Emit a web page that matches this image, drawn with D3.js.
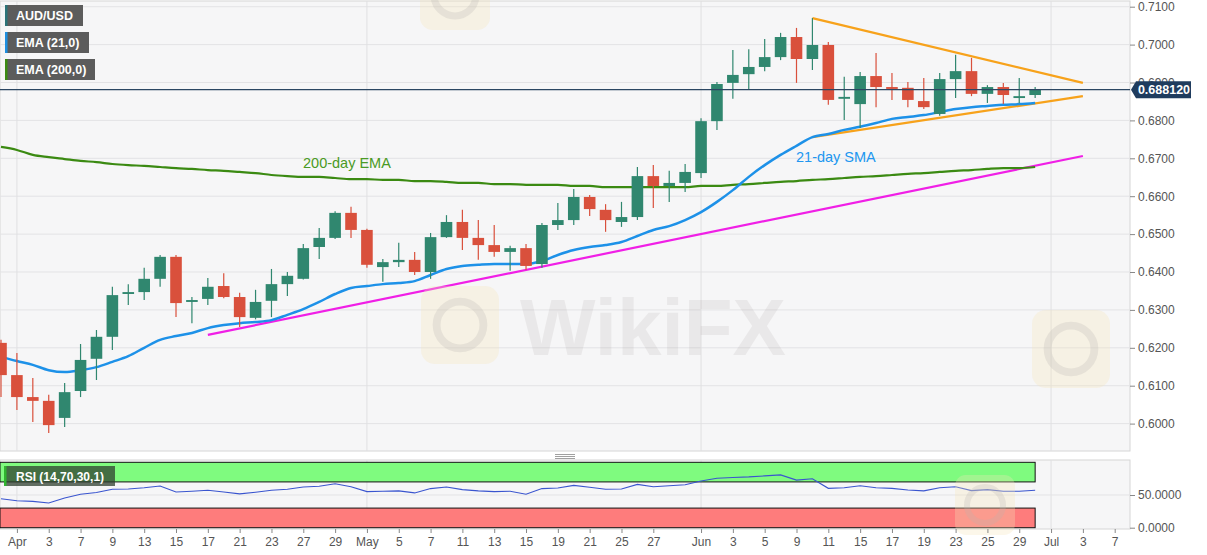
<!DOCTYPE html>
<html>
<head>
<meta charset="utf-8">
<script src="https://cdn.jsdelivr.net/npm/d3@7"></script>
<style>
  body { margin: 0; background: #fff; }
  svg { display: block; font-family: Arial, "Liberation Sans", sans-serif; }
</style>
</head>
<body>
<div id="chart"></div>
<script>
// trading days, Mar 31 .. Jul 8 (the last ones are empty space on the right)
const days = ["03-31","04-01","04-02","04-03","04-06","04-07","04-08","04-09","04-10","04-13","04-14","04-15","04-16","04-17","04-20","04-21","04-22","04-23","04-24","04-27","04-28","04-29","04-30",
  "05-01","05-04","05-05","05-06","05-07","05-08","05-11","05-12","05-13","05-14","05-15","05-18","05-19","05-20","05-21","05-22","05-25","05-26","05-27","05-28","05-29",
  "06-01","06-02","06-03","06-04","06-05","06-08","06-09","06-10","06-11","06-12","06-15","06-16","06-17","06-18","06-19","06-22","06-23","06-24","06-25","06-26","06-29","06-30",
  "07-01","07-02","07-03","07-06","07-07","07-08"];

const opens = [0.6213,0.6128,0.6070,0.6060,0.6015,0.6086,0.6171,0.6229,0.6342,0.6347,
  0.6382,0.6440,0.6321,0.6329,0.6363,0.6334,0.6279,0.6324,0.6368,0.6382,
  0.6466,0.6490,0.6556,0.6511,0.6413,0.6426,0.6432,0.6400,0.6492,0.6532,
  0.6490,0.6471,0.6453,0.6463,0.6421,0.6524,0.6537,0.6598,0.6564,0.6532,
  0.6545,0.6653,0.6627,0.6635,0.6661,0.6798,0.6899,0.6922,0.6941,0.6967,
  0.7020,0.6962,0.6999,0.6857,0.6843,0.6917,0.6888,0.6886,0.6851,0.6817,
  0.6909,0.6930,0.6870,0.6888,0.6859,0.6867];
const highs = [0.6221,0.6186,0.6120,0.6076,0.6107,0.6210,0.6247,0.6361,0.6368,0.6411,
  0.6445,0.6445,0.6334,0.6384,0.6397,0.6345,0.6353,0.6408,0.6400,0.6474,
  0.6516,0.6560,0.6572,0.6514,0.6434,0.6477,0.6453,0.6503,0.6550,0.6564,
  0.6537,0.6524,0.6469,0.6474,0.6529,0.6582,0.6619,0.6603,0.6579,0.6585,
  0.6677,0.6682,0.6667,0.6685,0.6806,0.6901,0.6986,0.6988,0.7015,0.7031,
  0.7044,0.7070,0.7007,0.6915,0.6928,0.6978,0.6925,0.6901,0.6912,0.6925,
  0.6973,0.6965,0.6893,0.6899,0.6912,0.6888];
const lows = [0.6070,0.6036,0.6004,0.5975,0.5991,0.6070,0.6115,0.6194,0.6313,0.6326,
  0.6361,0.6281,0.6265,0.6313,0.6331,0.6255,0.6275,0.6281,0.6337,0.6380,
  0.6434,0.6487,0.6490,0.6411,0.6374,0.6413,0.6392,0.6382,0.6490,0.6458,
  0.6432,0.6440,0.6403,0.6405,0.6411,0.6511,0.6524,0.6548,0.6506,0.6519,
  0.6537,0.6569,0.6585,0.6611,0.6648,0.6775,0.6857,0.6883,0.6930,0.6959,
  0.6899,0.6933,0.6841,0.6801,0.6780,0.6835,0.6854,0.6835,0.6830,0.6812,
  0.6859,0.6864,0.6846,0.6843,0.6846,0.6859];
const closes = [0.6128,0.6070,0.6060,0.5996,0.6083,0.6168,0.6229,0.6339,0.6347,0.6382,
  0.6440,0.6318,0.6326,0.6361,0.6334,0.6281,0.6321,0.6368,0.6390,0.6463,
  0.6490,0.6556,0.6511,0.6419,0.6426,0.6432,0.6400,0.6492,0.6532,0.6490,
  0.6471,0.6453,0.6463,0.6416,0.6524,0.6537,0.6598,0.6566,0.6537,0.6545,
  0.6653,0.6627,0.6635,0.6664,0.6798,0.6896,0.6920,0.6941,0.6967,0.7020,
  0.6962,0.6999,0.6854,0.6862,0.6917,0.6888,0.6883,0.6854,0.6835,0.6909,
  0.6930,0.6870,0.6888,0.6867,0.6864,0.68812];

const sma21 = [0.6176,0.6165,0.6155,0.6141,0.6136,0.6141,0.6149,0.6163,0.6178,0.6200,
  0.6221,0.6231,0.6239,0.6252,0.6260,0.6265,0.6268,0.6273,0.6287,0.6302,
  0.6321,0.6342,0.6358,0.6363,0.6368,0.6371,0.6376,0.6392,0.6408,0.6416,
  0.6419,0.6421,0.6421,0.6421,0.6429,0.6445,0.6458,0.6466,0.6471,0.6479,
  0.6495,0.6511,0.6521,0.6537,0.6558,0.6585,0.6616,0.6651,0.6682,0.6709,
  0.6733,0.6756,0.6764,0.6775,0.6783,0.6793,0.6804,0.6809,0.6814,0.6822,
  0.6830,0.6835,0.6838,0.6841,0.6843,0.6846];
const ema200 = [0.6730,0.6722,0.6709,0.6703,0.6698,0.6693,0.6690,0.6685,0.6682,0.6680,
  0.6677,0.6674,0.6672,0.6669,0.6667,0.6664,0.6661,0.6656,0.6653,0.6651,
  0.6651,0.6648,0.6645,0.6645,0.6643,0.6643,0.6640,0.6640,0.6638,0.6635,
  0.6635,0.6632,0.6632,0.6630,0.6630,0.6630,0.6627,0.6627,0.6624,0.6624,
  0.6624,0.6624,0.6624,0.6624,0.6627,0.6627,0.6630,0.6632,0.6635,0.6638,
  0.6640,0.6643,0.6645,0.6648,0.6651,0.6653,0.6656,0.6659,0.6661,0.6664,
  0.6667,0.6669,0.6672,0.6674,0.6674,0.6677];
const rsi = [44.2,41.3,40.2,37.8,45.3,51.2,53.7,58.7,59.2,61.2,
  63.8,54.7,55.8,57.2,54.7,51.7,54.3,57.2,58.7,62.2,
  63.3,67.3,62.7,55.2,55.8,56.3,53.2,59.8,62.2,58.2,
  56.3,55.2,55.8,51.2,59.8,60.7,64.7,61.8,58.7,59.2,
  66.2,62.7,64.2,65.7,71.3,75.7,76.8,77.7,79.2,80.7,
  72.8,74.8,60.2,61.2,64.2,61.2,60.2,57.7,56.3,61.2,
  62.7,56.7,58.2,55.8,55.8,57.2];

const lastPrice = 0.68812;
const trendLines = [
  { color: "#f7a21b", from: ["06-10", 0.7070], to: ["07-03", 0.6899] },
  { color: "#f7a21b", from: ["06-10", 0.6756], to: ["07-03", 0.6864] },
  { color: "#f01fe6", from: ["04-17", 0.6234], to: ["07-03", 0.6706] }
];

const tickDays = ["04-01","04-03","04-07","04-09","04-13","04-15","04-17","04-21","04-23","04-27","04-29",
  "05-01","05-05","05-07","05-11","05-13","05-15","05-19","05-21","05-25","05-27",
  "06-01","06-03","06-05","06-09","06-11","06-15","06-17","06-19","06-23","06-25","06-29",
  "07-01","07-03","07-07"];
const tickLabels = ["Apr","3","7","9","13","15","17","21","23","27","29",
  "May","5","7","11","13","15","19","21","25","27",
  "Jun","3","5","9","11","15","17","19","23","25","29",
  "Jul","3","7"];
const monthStarts = ["04-01","05-01","06-01","07-01"];
const priceTicks = [0.60,0.61,0.62,0.63,0.64,0.65,0.66,0.67,0.68,0.69,0.70,0.71];
const rsiTicks = [0, 50];

const width = 1207, height = 555;
const plotRight = 1130, mainTop = 1, mainBottom = 451, rsiTop = 460, rsiBottom = 529;

const candles = days.slice(0, closes.length).map((d, i) => ({
  day: d, o: opens[i], h: highs[i], l: lows[i], c: closes[i]
}));

const x = d3.scalePoint().domain(days).range([1, 1 + 15.91 * (days.length - 1)]);
const y = d3.scaleLinear().domain([0.60, 0.71]).range([423.6, 6.7]);
const yRsi = d3.scaleLinear().domain([0, 100]).range([527.7, 462.3]);

const svg = d3.select("#chart").append("svg")
  .attr("width", width).attr("height", height);

const defs = svg.append("defs");
defs.append("clipPath").attr("id", "clipMain").append("rect")
  .attr("x", 0).attr("y", mainTop).attr("width", plotRight).attr("height", mainBottom - mainTop);
defs.append("clipPath").attr("id", "clipRsi").append("rect")
  .attr("x", 0).attr("y", rsiTop).attr("width", plotRight).attr("height", rsiBottom - rsiTop);

// panel backgrounds
svg.append("rect").attr("x", 0).attr("y", mainTop).attr("width", plotRight).attr("height", mainBottom - mainTop)
  .attr("fill", "#f6f6f7").attr("stroke", "#d6d6d6");
svg.append("rect").attr("x", 0).attr("y", rsiTop).attr("width", plotRight).attr("height", rsiBottom - rsiTop)
  .attr("fill", "#f6f6f7").attr("stroke", "#d6d6d6");

const main = svg.append("g").attr("clip-path", "url(#clipMain)");
const low = svg.append("g").attr("clip-path", "url(#clipRsi)");

// grid
main.selectAll("line.hgrid").data(priceTicks).join("line").attr("class", "hgrid")
  .attr("x1", 0).attr("x2", plotRight).attr("y1", d => y(d)).attr("y2", d => y(d))
  .attr("stroke", "#e3e3e5");
main.selectAll("line.vgrid").data(monthStarts).join("line").attr("class", "vgrid")
  .attr("x1", d => x(d)).attr("x2", d => x(d)).attr("y1", mainTop).attr("y2", mainBottom)
  .attr("stroke", "#e0e0e2");
low.selectAll("line.vgrid").data(monthStarts).join("line").attr("class", "vgrid")
  .attr("x1", d => x(d)).attr("x2", d => x(d)).attr("y1", rsiTop).attr("y2", rsiBottom)
  .attr("stroke", "#e0e0e2");
low.append("line").attr("x1", 0).attr("x2", plotRight).attr("y1", yRsi(50)).attr("y2", yRsi(50))
  .attr("stroke", "#e3e3e5");

// faint watermarks
const wm = svg.append("g").attr("pointer-events", "none");
function logo(g, cx, cy, s) {
  g.append("rect").attr("x", cx - s / 2).attr("y", cy - s / 2).attr("width", s).attr("height", s)
    .attr("rx", s * 0.18).attr("fill", "#f4e4b8").attr("opacity", 0.3);
  g.append("circle").attr("cx", cx).attr("cy", cy).attr("r", s * 0.3)
    .attr("fill", "none").attr("stroke", "#b9b2ae").attr("stroke-width", s * 0.1).attr("opacity", 0.25);
}
logo(wm, 460, 325, 78);
logo(wm, 1071, 349, 78);
logo(wm, 455, -5, 70);
logo(wm, 985, 505, 60);
wm.append("text").attr("x", 520).attr("y", 355)
  .attr("font-size", 80).attr("font-weight", "bold").attr("fill", "#9a8f8f").attr("opacity", 0.13)
  .text("WikiFX");

// trend lines
main.selectAll("line.trend").data(trendLines).join("line").attr("class", "trend")
  .attr("x1", d => x(d.from[0])).attr("y1", d => y(d.from[1]))
  .attr("x2", d => x(d.to[0])).attr("y2", d => y(d.to[1]))
  .attr("stroke", d => d.color).attr("stroke-width", 2.2);

// moving averages
const lineOf = vals => d3.line().x((v, i) => x(days[i])).y(v => y(v)).curve(d3.curveMonotoneX)(vals);
main.append("path").attr("d", lineOf(ema200)).attr("fill", "none")
  .attr("stroke", "#3b8a12").attr("stroke-width", 2.2);
main.append("path").attr("d", lineOf(sma21)).attr("fill", "none")
  .attr("stroke", "#1d91e8").attr("stroke-width", 2.5);

// candles
const up = "#30876f", down = "#d9503c";
const cg = main.selectAll("g.candle").data(candles).join("g").attr("class", "candle");
cg.append("line")
  .attr("x1", d => x(d.day)).attr("x2", d => x(d.day))
  .attr("y1", d => y(d.h)).attr("y2", d => y(d.l))
  .attr("stroke", d => d.c >= d.o ? up : down).attr("stroke-width", 1.2);
cg.append("rect")
  .attr("x", d => x(d.day) - 5.8).attr("width", 11.6)
  .attr("y", d => y(Math.max(d.o, d.c)))
  .attr("height", d => Math.max(1.5, Math.abs(y(d.o) - y(d.c))))
  .attr("fill", d => d.c >= d.o ? up : down);

// last price line
main.append("line").attr("x1", 0).attr("x2", plotRight)
  .attr("y1", y(lastPrice)).attr("y2", y(lastPrice))
  .attr("stroke", "#2b4662").attr("stroke-width", 1.2);

// annotations
main.append("text").attr("x", 303).attr("y", 168).attr("font-size", 14.5)
  .attr("fill", "#4a9a24").text("200-day EMA");
main.append("text").attr("x", 796).attr("y", 162).attr("font-size", 14.5)
  .attr("fill", "#2196f0").text("21-day SMA");

// RSI zones and line
const lastX = x(candles[candles.length - 1].day);
low.append("rect").attr("x", 0).attr("width", lastX).attr("y", yRsi(100)).attr("height", yRsi(70) - yRsi(100))
  .attr("fill", "#7ffb7f").attr("stroke", "#111");
low.append("rect").attr("x", 0).attr("width", lastX).attr("y", yRsi(30)).attr("height", yRsi(0) - yRsi(30))
  .attr("fill", "#fe7c7c").attr("stroke", "#111");
low.append("path")
  .attr("d", d3.line().x((v, i) => x(days[i])).y(v => yRsi(v))(rsi))
  .attr("fill", "none").attr("stroke", "#3a55cf").attr("stroke-width", 1.1);

// axes
const yAxis = svg.append("g").attr("transform", `translate(${plotRight},0)`)
  .call(d3.axisRight(y).tickValues(priceTicks).tickFormat(d3.format(".4f")).tickSize(5).tickPadding(3));
const rAxis = svg.append("g").attr("transform", `translate(${plotRight},0)`)
  .call(d3.axisRight(yRsi).tickValues(rsiTicks).tickFormat(d3.format(".4f")).tickSize(5).tickPadding(3));
const xAxis = svg.append("g").attr("transform", `translate(0,${rsiBottom})`)
  .call(d3.axisBottom(x).tickValues(tickDays).tickFormat((d, i) => tickLabels[i]).tickSize(4).tickPadding(4));
[yAxis, rAxis, xAxis].forEach(a => {
  a.select(".domain").remove();
  a.selectAll(".tick line").attr("stroke", "#888");
  a.selectAll(".tick text").attr("fill", "#555").attr("font-size", 12)
    .attr("font-family", "Arial, 'Liberation Sans', sans-serif");
});

// price tag
const py = y(lastPrice);
const tag = svg.append("g");
tag.append("path")
  .attr("d", `M${plotRight + 1},${py} L${plotRight + 6},${py - 8.5} L${plotRight + 61},${py - 8.5} L${plotRight + 61},${py + 8.5} L${plotRight + 6},${py + 8.5} Z`)
  .attr("fill", "#1f3c5e");
tag.append("text").attr("x", plotRight + 34).attr("y", py + 4.5).attr("text-anchor", "middle")
  .attr("font-size", 12.5).attr("font-weight", "bold").attr("fill", "#fff")
  .text(d3.format(".6f")(lastPrice));

// splitter handle
[454.5, 456.5, 458.5].forEach(hy => {
  svg.append("line").attr("x1", 555).attr("x2", 575).attr("y1", hy).attr("y2", hy)
    .attr("stroke", "#888").attr("stroke-width", 0.8);
});

// legend boxes
const legend = [
  { label: "AUD/USD", w: 78, y: 5, color: "#2b7378" },
  { label: "EMA (21,0)", w: 84, y: 32, color: "#1e8fe0" },
  { label: "EMA (200,0)", w: 90, y: 59, color: "#3b8a12" }
];
const lg = svg.selectAll("g.leg").data(legend).join("g").attr("class", "leg");
lg.append("rect").attr("x", 5).attr("y", d => d.y).attr("width", d => d.w).attr("height", 21).attr("fill", "#5c5c5c");
lg.append("rect").attr("x", 5).attr("y", d => d.y).attr("width", 2.5).attr("height", 21).attr("fill", d => d.color);
lg.append("text").attr("x", 16).attr("y", d => d.y + 15).attr("font-size", 12.5).attr("font-weight", "bold")
  .attr("fill", "#fff").text(d => d.label);

const rl = svg.append("g");
rl.append("rect").attr("x", 4).attr("y", 466).attr("width", 111).attr("height", 20)
  .attr("fill", "#2f3f2f").attr("opacity", 0.75);
rl.append("rect").attr("x", 4).attr("y", 466).attr("width", 2.5).attr("height", 20).attr("fill", "#2fb52f");
rl.append("text").attr("x", 16).attr("y", 480.5).attr("font-size", 12).attr("font-weight", "bold")
  .attr("fill", "#fff").text("RSI (14,70,30,1)");
</script>
</body>
</html>
